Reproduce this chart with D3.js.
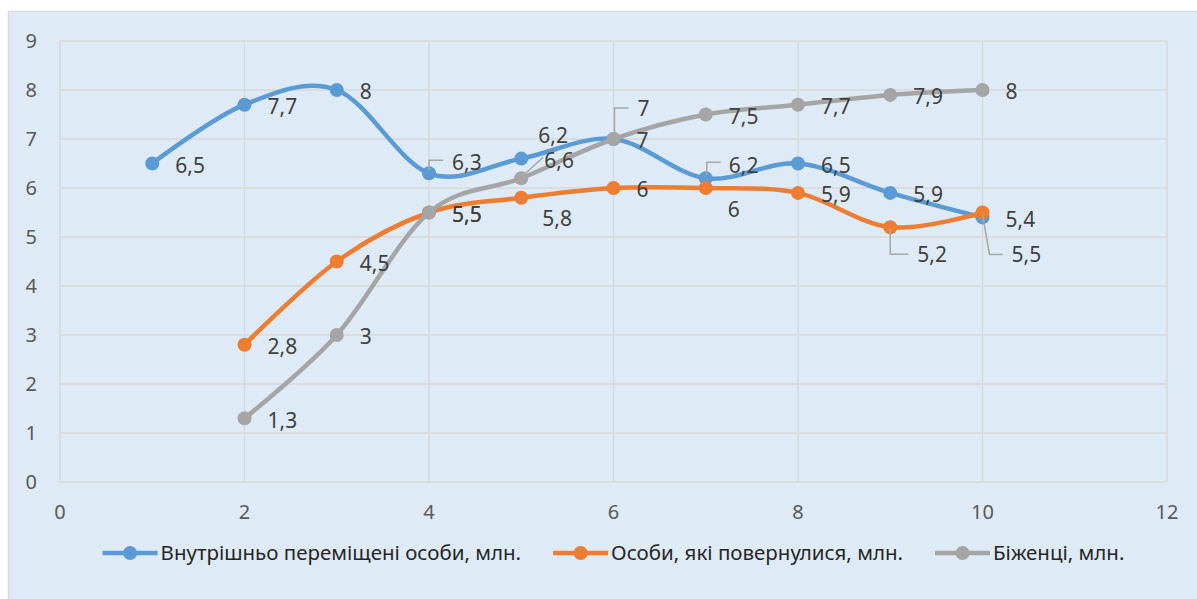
<!DOCTYPE html>
<html>
<head>
<meta charset="utf-8">
<script src="https://cdn.jsdelivr.net/npm/d3@7"></script>
<style>
  html, body { margin: 0; padding: 0; background: #ffffff; }
  svg { display: block; font-family: "Segoe UI", "Noto Sans", sans-serif; }
  .grid line { stroke: #d9d9d9; stroke-width: 1.5; }
  .tick-label { fill: #595959; font-size: 20px; }
  .data-label { fill: #404040; font-size: 21px; }
  .leader { fill: none; stroke: #a6a6a6; stroke-width: 1.5; }
  .legend-text { fill: #262626; font-size: 20.5px; }
</style>
</head>
<body>
<div id="chart"></div>
<script>
// chart values
const xValues = [1, 2, 3, 4, 5, 6, 7, 8, 9, 10];
const idpValues = [6.5, 7.7, 8, 6.3, 6.6, 7, 6.2, 6.5, 5.9, 5.4];
const returnedValues = [null, 2.8, 4.5, 5.5, 5.8, 6, 6, 5.9, 5.2, 5.5];
const refugeeValues = [null, 1.3, 3, 5.5, 6.2, 7, 7.5, 7.7, 7.9, 8];
const seriesNames = ['Внутрішньо переміщені особи, млн.', 'Особи, які повернулися, млн.', 'Біженці, млн.'];
const xTicks = [0, 2, 4, 6, 8, 10, 12];
const yTicks = [0, 1, 2, 3, 4, 5, 6, 7, 8, 9];

const colors = ['#5b9bd5', '#ed7d31', '#a5a5a5'];

// label placement like Excel did it (pixel offsets from the marker), default is "right"
const defaultOffset = {dx: 23, dy: 2};
const labelLayout = [
    {3: {dx: 23, dy: -11, leader: [[0, -3], [0, -13], [14, -13]]},
     6: {dx: 23, dy: -13, leader: [[1, -3], [1, -16], [15, -16]]}},
    {4: {dx: 21, dy: 21},
     6: {dx: 22, dy: 22},
     8: {dx: 27, dy: 27, leader: [[0, 2], [0, 27], [18, 27]]},
     9: {dx: 29, dy: 42, leader: [[0, 2], [7, 42], [20, 42]]}},
    {4: {dx: 17, dy: -43, leader: [[0, -1], [22, -21]]},
     5: {dx: 24, dy: -30, leader: [[1, -2], [1, -31], [15, -31]]}}
];

const W = 1197, H = 599;
const svg = d3.select('#chart').append('svg')
    .attr('width', W)
    .attr('height', H);

// chart area
svg.append('rect')
    .attr('x', 8.5).attr('y', 11.5)
    .attr('width', W + 10).attr('height', H + 10)
    .attr('fill', '#deebf7')
    .attr('stroke', '#d9d9d9')
    .attr('stroke-width', 1.5);

const x = d3.scaleLinear().domain([0, 12]).range([60, 1167]);
const y = d3.scaleLinear().domain([0, 9]).range([482, 41]);

// grid
const grid = svg.append('g').attr('class', 'grid');
grid.selectAll('.h').data(yTicks).enter().append('line')
    .attr('x1', x(0)).attr('x2', x(12))
    .attr('y1', d => y(d)).attr('y2', d => y(d));
grid.selectAll('.v').data(xTicks).enter().append('line')
    .attr('x1', d => x(d)).attr('x2', d => x(d))
    .attr('y1', y(0)).attr('y2', y(9));

// axis labels
svg.append('g').selectAll('text').data(yTicks).enter().append('text')
    .attr('class', 'tick-label')
    .attr('x', 37)
    .attr('y', d => y(d))
    .attr('dy', '0.35em')
    .attr('text-anchor', 'end')
    .text(d => d);

svg.append('g').selectAll('text').data(xTicks).enter().append('text')
    .attr('class', 'tick-label')
    .attr('x', d => x(d))
    .attr('y', 512)
    .attr('dy', '0.35em')
    .attr('text-anchor', 'middle')
    .text(d => d);

// series
const allSeries = [idpValues, returnedValues, refugeeValues].map((vals, i) => ({
    name: seriesNames[i],
    color: colors[i],
    points: xValues.map((xv, j) => ({x: xv, v: vals[j], idx: j})).filter(p => p.v != null)
}));

const line = d3.line()
    .x(d => x(d.x))
    .y(d => y(d.v))
    .curve(d3.curveCatmullRom.alpha(0));

allSeries.forEach(s => {
    const g = svg.append('g');
    g.append('path')
        .datum(s.points)
        .attr('d', line)
        .attr('fill', 'none')
        .attr('stroke', s.color)
        .attr('stroke-width', 4.5)
        .attr('stroke-linecap', 'round');
    g.selectAll('circle').data(s.points).enter().append('circle')
        .attr('cx', d => x(d.x))
        .attr('cy', d => y(d.v))
        .attr('r', 7)
        .attr('fill', s.color);
});

// data labels and leader lines
const fmt = v => String(v).replace('.', ',');
allSeries.forEach((s, si) => {
    const g = svg.append('g');
    s.points.forEach(p => {
        const o = labelLayout[si][p.idx] || defaultOffset;
        const px = x(p.x), py = y(p.v);
        if (o.leader) {
            g.append('path')
                .attr('class', 'leader')
                .attr('d', d3.line()(o.leader.map(([a, b]) => [px + a, py + b])));
        }
        g.append('text')
            .attr('class', 'data-label')
            .attr('x', px + o.dx)
            .attr('y', py + o.dy)
            .attr('dy', '0.35em')
            .text(fmt(p.v));
    });
});

// legend
const legend = svg.append('g');
const items = allSeries.map(s => {
    const it = legend.append('g');
    it.append('line')
        .attr('x1', 0).attr('x2', 55)
        .attr('stroke', s.color).attr('stroke-width', 4.5);
    it.append('circle').attr('cx', 27.5).attr('r', 7).attr('fill', s.color);
    const t = it.append('text')
        .attr('class', 'legend-text')
        .attr('x', 58).attr('dy', '0.35em')
        .text(s.name);
    return {g: it, w: 58 + t.node().getComputedTextLength()};
});
const gap = 32;
const total = d3.sum(items, d => d.w) + gap * (items.length - 1);
let lx = (x(0) + x(12)) / 2 - total / 2;
items.forEach(it => {
    it.g.attr('transform', `translate(${lx},553)`);
    lx += it.w + gap;
});
</script>
</body>
</html>
